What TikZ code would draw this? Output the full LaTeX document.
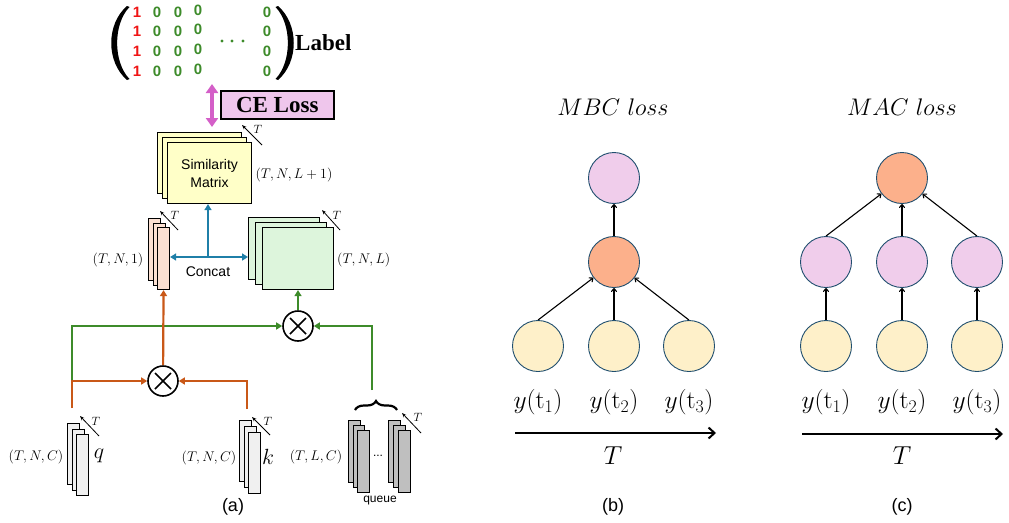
\RequirePackage{fix-cm}
\documentclass[tikz,border=0pt]{standalone}
\usepackage{fontspec}
\newfontfamily\sansfam{Liberation Sans}
\newfontfamily\seriffam{Liberation Serif}
\usetikzlibrary{arrows.meta,decorations.pathreplacing,calc}

\definecolor{simfill}{HTML}{FFFFC8}
\definecolor{pinkfill}{HTML}{FBE0D2}
\definecolor{greenfill}{HTML}{DDF5DC}
\definecolor{qkfill}{HTML}{F0F0F0}
\definecolor{queuefill}{HTML}{BFBFBF}
\definecolor{lossfill}{HTML}{EFC6EC}
\definecolor{oline}{HTML}{C95818}
\definecolor{gline}{HTML}{3D8B2A}
\definecolor{bline}{HTML}{1F7FA8}
\definecolor{mline}{HTML}{D45FC8}
\definecolor{onered}{HTML}{F01414}
\definecolor{zerogreen}{HTML}{3D8B2A}
\definecolor{cpink}{HTML}{F0CDEB}
\definecolor{corange}{HTML}{FCB08B}
\definecolor{cyellow}{HTML}{FEF0C9}
\definecolor{cborder}{HTML}{1F4E6E}

\tikzset{
  layer/.style={draw=black, line width=1.1pt, anchor=north west, inner sep=0pt},
  simlayer/.style={layer, fill=simfill, minimum width=84pt, minimum height=61pt},
  pinklayer/.style={layer, fill=pinkfill, minimum width=12pt, minimum height=62pt},
  greenlayer/.style={layer, fill=greenfill, minimum width=71pt, minimum height=62pt},
  qklayer/.style={layer, fill=qkfill, minimum width=12pt, minimum height=61pt},
  queuelayer/.style={layer, fill=queuefill, minimum width=11.5pt, minimum height=62pt},
  mul/.style={circle, draw=black, line width=1.6pt, minimum size=30pt, inner sep=0pt, fill=white,
    path picture={
      \draw[line width=1.6pt] ($(path picture bounding box.center)+(-8,-8)$) -- ($(path picture bounding box.center)+(8,8)$);
      \draw[line width=1.6pt] ($(path picture bounding box.center)+(-8,8)$) -- ($(path picture bounding box.center)+(8,-8)$);
    }},
  flow/.style={line width=2.2pt, -{Triangle[length=6pt,width=7pt]}},
  oflow/.style={flow, draw=oline},
  gflow/.style={flow, draw=gline},
  bflow/.style={flow, draw=bline},
  tdir/.style={line width=0.8pt, -{Stealth[length=4.5pt,width=3.5pt]}},
  tlab/.style={font=\fontsize{12}{12}\selectfont, inner sep=0pt},
  dimlab/.style={font=\fontsize{14}{14}\selectfont, inner sep=0pt},
  sanslab/.style={font=\sansfam\fontsize{14}{16}\selectfont, inner sep=0pt},
  panellab/.style={font=\sansfam\fontsize{18}{18}\selectfont, inner sep=0pt},
  one/.style={font=\sansfam\bfseries\fontsize{15}{15}\selectfont, text=onered, inner sep=0pt},
  zero/.style={font=\sansfam\bfseries\fontsize{15}{15}\selectfont, text=zerogreen, inner sep=0pt},
  circ/.style={circle, draw=cborder, line width=0.9pt, minimum size=51pt, inner sep=0pt},
  carrow/.style={line width=1.1pt, -{To[length=4pt,width=6pt]}},
  axis/.style={line width=2pt, -{Straight Barb[length=6pt,width=11pt,line width=2pt]}},
  biglab/.style={font=\fontsize{24}{24}\selectfont, inner sep=0pt},
  ylab/.style={font=\fontsize{25.5}{25.5}\selectfont, inner sep=0pt},
}

\begin{document}
\begin{tikzpicture}[x=1pt,y=-1pt]
\useasboundingbox (0,0) rectangle (1009,522);

% ---------- label matrix ----------
\fill (127,6) .. controls (106,24) and (106,62) .. (127,80)
  -- (129.5,79) .. controls (113,62) and (113,24) .. (129.5,7) -- cycle;
\fill (278,6) .. controls (299,24) and (299,62) .. (278,80)
  -- (275.5,79) .. controls (292,62) and (292,24) .. (275.5,7) -- cycle;
\foreach \r/\y in {1/12.7,2/31.7,3/51.7,4/71}{
  \node[one]  (m\r a) at (137,\y) {1};
  \node[zero] (m\r b) at (157,\y) {0};
  \node[zero] (m\r c) at (178,\y) {0};
  \node[zero] (m\r d) at (198,\y-2) {0};
  \node[zero] (m\r e) at (267,\y) {0};
}
\foreach \x in {222,232,243}{ \fill[zerogreen] (\x,41) circle (1.6); }
\node[font=\seriffam\bfseries\fontsize{23}{23}\selectfont, anchor=west, inner sep=0pt] (label) at (295,43) {Label};

% ---------- CE loss ----------
\node[draw=black, line width=1.5pt, fill=lossfill, anchor=north west, minimum width=113pt, minimum height=28pt, inner sep=0pt,
      font=\seriffam\bfseries\fontsize{23}{23}\selectfont] (ce) at (220,90) {CE Loss};
\coordinate (lossTop) at (212,84);
\coordinate (lossBot) at (212,127);
\draw[mline, line width=4pt, {Triangle[length=9pt,width=12pt]}-{Triangle[length=9pt,width=12pt]}] (lossTop) -- (lossBot);

% ---------- similarity matrix ----------
\node[simlayer] (sim1) at (157,132) {};
\node[simlayer] (sim2) at (162,137) {};
\node[simlayer, align=center, font=\sansfam\fontsize{14}{18}\selectfont] (sim3) at (167,142) {Similarity\\Matrix};
\coordinate (simTa) at (262,145); \coordinate (simTb) at (242,125);
\draw[tdir] (simTa) -- (simTb);
\node[tlab] (simT) at (258,129) {$T$};
\node[dimlab] (simdim) at (294,175) {$(T,N,L+1)$};

% ---------- positive logits ----------
\node[pinklayer] (pos1) at (148,218) {};
\node[pinklayer] (pos2) at (152.5,222.5) {};
\node[pinklayer] (pos3) at (157,227) {};
\coordinate (posTa) at (178,230); \coordinate (posTb) at (160,211);
\draw[tdir] (posTa) -- (posTb);
\node[tlab] (posT) at (175,215) {$T$};
\node[dimlab] (posdim) at (118,260) {$(T,N,1)$};

% ---------- negative logits ----------
\node[greenlayer] (neg1) at (248,217) {};
\node[greenlayer] (neg2) at (255,222) {};
\node[greenlayer] (neg3) at (262,227) {};
\coordinate (negTa) at (340,230); \coordinate (negTb) at (322,210);
\draw[tdir] (negTa) -- (negTb);
\node[tlab] (negT) at (337,215) {$T$};
\node[dimlab, anchor=west] (negdim) at (337,260) {$(T,N,L)$};

% ---------- concat ----------
\coordinate (concat) at (208,257);
\draw[bflow] (concat) -- (concat |- sim3.south);
\draw[bflow] (concat) -- (pos3.east |- concat);
\draw[bflow] (concat) -- (neg1.west |- concat);
\node[sanslab] (concatlab) at (208,272) {Concat};

% ---------- multiplications ----------
\node[mul] (mulA) at (163,381) {};
\node[mul] (mulB) at (298,326) {};

% ---------- q ----------
\node[qklayer] (q1) at (67,423) {};
\node[qklayer] (q2) at (71.5,428.5) {};
\node[qklayer] (q3) at (76,434) {};
\coordinate (qTa) at (99,436); \coordinate (qTb) at (80,416);
\draw[tdir] (qTa) -- (qTb);
\node[tlab] (qT) at (96,421) {$T$};
\node[font=\fontsize{22}{22}\selectfont, inner sep=0pt] (qlab) at (99,456) {$q$};
\node[dimlab] (qdim) at (36,457) {$(T,N,C)$};

% ---------- k ----------
\node[qklayer] (k1) at (239,420) {};
\node[qklayer] (k2) at (243.5,426) {};
\node[qklayer] (k3) at (248,432) {};
\coordinate (kTa) at (270,435); \coordinate (kTb) at (252,417);
\draw[tdir] (kTa) -- (kTb);
\node[tlab] (kT) at (268,421) {$T$};
\node[font=\fontsize{22}{22}\selectfont, inner sep=0pt] (klab) at (268,457) {$k$};
\node[dimlab] (kdim) at (209,458) {$(T,N,C)$};

% ---------- queue ----------
\node[queuelayer] (u1) at (348,420) {};
\node[queuelayer] (u2) at (352.5,425) {};
\node[queuelayer] (u3) at (357,430) {};
\node[queuelayer] (v1) at (388,420) {};
\node[queuelayer] (v2) at (393,425) {};
\node[queuelayer] (v3) at (398,430) {};
\node[font=\sansfam\fontsize{12}{12}\selectfont, inner sep=0pt] (udots) at (378,456) {...};
\coordinate (uTa) at (421,433); \coordinate (uTb) at (402,413);
\draw[tdir] (uTa) -- (uTb);
\node[tlab] (uT) at (418,417) {$T$};
\node[font=\sansfam\fontsize{12}{12}\selectfont, inner sep=0pt, anchor=base] (queuelab) at (380,502) {queue};
\node[dimlab] (udim) at (316,457) {$(T,L,C)$};
\draw[decorate, decoration={brace, amplitude=9pt}, line width=2.2pt] (355,410) -- (397,410);

% ---------- flows ----------
\coordinate (qout) at (72,408);
\coordinate (qsplit) at (72,381);
\coordinate (kout) at (247,409);
\coordinate (uout) at (372,390);
\draw[gflow] (qsplit) |- (mulB);
\draw[gflow] (uout) |- (mulB);
\draw[oflow] (qout) |- (mulA);
\draw[oflow] (kout) |- (mulA);
\draw[oflow] (mulA) -- (pos3.south);
\draw[gflow] (mulB) -- (mulB |- neg3.south);

\node[panellab] (pa) at (233,507) {(a)};

% ---------- (b) MBC loss ----------
\node[biglab] (btitle) at (613,107) {$MBC\ loss$};
\node[circ, fill=cpink]   (btop) at (614,178) {};
\node[circ, fill=corange] (bmid) at (614,262) {};
\node[circ, fill=cyellow] (b1) at (538,346) {};
\node[circ, fill=cyellow] (b2) at (614,346) {};
\node[circ, fill=cyellow] (b3) at (689,346) {};
\draw[carrow] (b1.north) -- (bmid);
\draw[carrow] (b2.north) -- (bmid.south);
\draw[carrow] (b3.north) -- (bmid);
\draw[carrow] (bmid.north) -- (btop.south);
\node[ylab] (by1) at (538,402) {$y(\mathrm{t}_1)$};
\node[ylab] (by2) at (614,402) {$y(\mathrm{t}_2)$};
\node[ylab] (by3) at (689,402) {$y(\mathrm{t}_3)$};
\coordinate (baxA) at (515,433); \coordinate (baxB) at (716,433);
\draw[axis] (baxA) -- (baxB);
\node[font=\fontsize{26}{26}\selectfont, inner sep=0pt] (bT) at (613,456) {$T$};
\node[panellab] (pb) at (613,507) {(b)};

% ---------- (c) MAC loss ----------
\node[biglab] (ctitle) at (902,107) {$MAC\ loss$};
\node[circ, fill=corange] (ctop) at (902,178) {};
\node[circ, fill=cpink]   (cm1) at (826,262) {};
\node[circ, fill=cpink]   (cm2) at (902,262) {};
\node[circ, fill=cpink]   (cm3) at (977,262) {};
\node[circ, fill=cyellow] (cb1) at (826,346) {};
\node[circ, fill=cyellow] (cb2) at (902,346) {};
\node[circ, fill=cyellow] (cb3) at (977,346) {};
\draw[carrow] (cb1.north) -- (cm1.south);
\draw[carrow] (cb2.north) -- (cm2.south);
\draw[carrow] (cb3.north) -- (cm3.south);
\draw[carrow] (cm1.north) -- (ctop);
\draw[carrow] (cm2.north) -- (ctop.south);
\draw[carrow] (cm3.north) -- (ctop);
\node[ylab] (cy1) at (826,402) {$y(\mathrm{t}_1)$};
\node[ylab] (cy2) at (902,402) {$y(\mathrm{t}_2)$};
\node[ylab] (cy3) at (977,402) {$y(\mathrm{t}_3)$};
\coordinate (caxA) at (802,434); \coordinate (caxB) at (1003,434);
\draw[axis] (caxA) -- (caxB);
\node[font=\fontsize{26}{26}\selectfont, inner sep=0pt] (cT) at (902,456) {$T$};
\node[panellab] (pc) at (902,507) {(c)};
\end{tikzpicture}
\end{document}
